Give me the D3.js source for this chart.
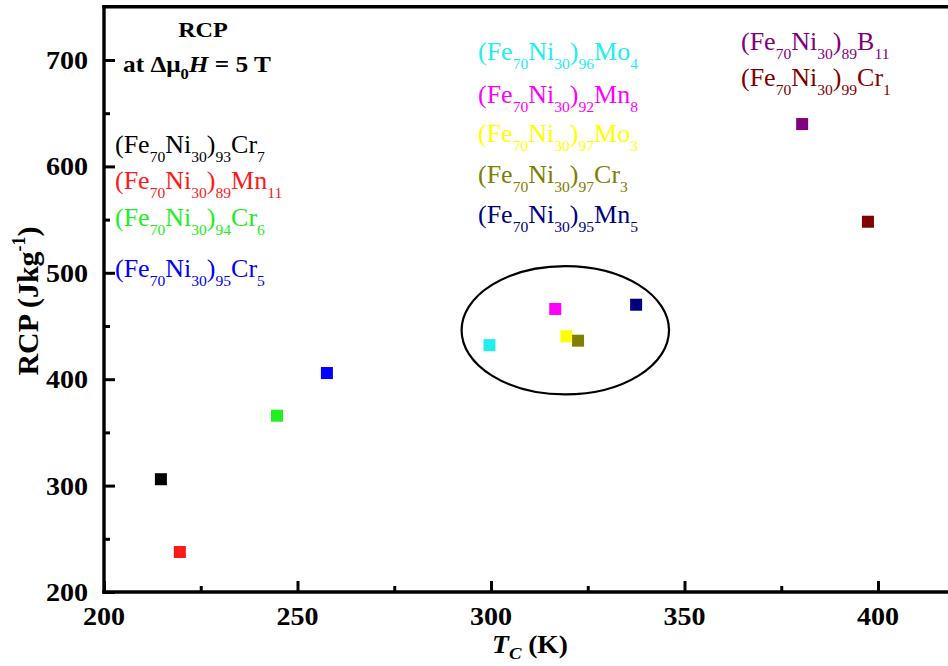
<!DOCTYPE html>
<html>
<head>
<meta charset="utf-8">
<script src="https://cdn.jsdelivr.net/npm/d3@7"></script>
<style>
  html, body { margin: 0; padding: 0; background: #fff; }
  svg { display: block; }
  text { font-family: "Liberation Serif", "Times New Roman", serif; }
</style>
</head>
<body>
<div id="chart"></div>
<script>
// Alloy compositions (markup: _{..} subscript, ^{..} superscript, *{..} italic)
const names = [
  "(Fe_{70}Ni_{30})_{93}Cr_{7}",
  "(Fe_{70}Ni_{30})_{89}Mn_{11}",
  "(Fe_{70}Ni_{30})_{94}Cr_{6}",
  "(Fe_{70}Ni_{30})_{95}Cr_{5}",
  "(Fe_{70}Ni_{30})_{96}Mo_{4}",
  "(Fe_{70}Ni_{30})_{92}Mn_{8}",
  "(Fe_{70}Ni_{30})_{97}Mo_{3}",
  "(Fe_{70}Ni_{30})_{97}Cr_{3}",
  "(Fe_{70}Ni_{30})_{95}Mn_{5}",
  "(Fe_{70}Ni_{30})_{89}B_{11}",
  "(Fe_{70}Ni_{30})_{99}Cr_{1}"
];
// Curie temperature T_C (K)
const tc = [214.7, 219.6, 244.7, 257.6, 299.6, 316.6, 319.5, 322.5, 337.5, 380.4, 397.4];
// Relative cooling power at 5 T (J/kg)
const rcp = [306, 237.6, 365.7, 405.8, 432, 466, 440.3, 436.2, 470, 639.8, 548];
const colors = ["#000000", "#ff1a1a", "#22ee22", "#0000ff", "#22eeee", "#ff00ff",
                "#ffff00", "#808000", "#000080", "#800080", "#800000"];

const xTicks = [200, 250, 300, 350, 400];
const yTicks = [200, 300, 400, 500, 600, 700];
const xMinor = [225, 275, 325, 375];
const yMinor = [250, 350, 450, 550, 650];

// Cluster outline around the near-room-temperature alloys (data units)
const cluster = { tc: 319.2, rcp: 446, rTc: 26.8, rRcp: 60.3 };

const W = 948, H = 666;
const svg = d3.select("#chart").append("svg").attr("width", W).attr("height", H);

const x = d3.scaleLinear().domain([200, 420]).range([104, 955.4]);
const y = d3.scaleLinear().domain([200, 750]).range([592, 6.8]);

const SX = 1.1; // horizontal glyph stretch

// Writes a text with sub/superscripts and italics parsed from the markup
function richText(parent, str, px, py, size, opts = {}) {
  const t = parent.append("text")
    .attr("transform", opts.rotate ? `translate(${px},${py}) rotate(-90)` : `translate(${px},${py}) scale(${opts.sx ?? SX},1)`)
    .attr("font-size", size)
    .attr("font-weight", opts.weight || "normal")
    .attr("fill", opts.color || "#000")
    .attr("text-anchor", opts.anchor || "start");
  const re = /([_^*])\{([^}]*)\}|([^_^*]+)/g;
  let m, shift = 0;
  const subSize = size * (opts.subRatio || 0.7);
  while ((m = re.exec(str)) !== null) {
    if (m[3] || m[1] === "*") {
      const ts = t.append("tspan").attr("dy", -shift).text(m[3] || m[2]);
      if (m[1] === "*") ts.attr("font-style", "italic");
      shift = 0;
    } else {
      const s = m[1] === "_" ? size * (opts.subShift || 0.36) : -size * 0.42;
      t.append("tspan").attr("dy", s - shift).attr("font-size", subSize).text(m[2]);
      shift = s;
    }
  }
  return t;
}

// Axes
const axisW = 3.4;
const axes = svg.append("g").attr("stroke", "#000").attr("stroke-width", axisW).attr("stroke-linecap", "square");
axes.append("line").attr("x1", x(200)).attr("x2", W + 5).attr("y1", y(200)).attr("y2", y(200));
axes.append("line").attr("x1", x(200)).attr("x2", x(200)).attr("y1", y(200)).attr("y2", y(750));
axes.append("line").attr("x1", x(200)).attr("x2", W + 5).attr("y1", y(750)).attr("y2", y(750));

// Ticks point into the plot
function ticks(axisFn, scale, values, size, transform) {
  const g = svg.append("g").attr("transform", transform)
    .call(axisFn(scale).tickValues(values).tickSizeInner(-size).tickSizeOuter(0).tickFormat(""));
  g.select(".domain").remove();
  g.selectAll(".tick line").attr("stroke-width", 3).attr("stroke", "#000");
  g.selectAll(".tick text").remove();
}
ticks(d3.axisBottom, x, xTicks, 11, `translate(0,${y(200)})`);
ticks(d3.axisBottom, x, xMinor, 6, `translate(0,${y(200)})`);
ticks(d3.axisLeft, y, yTicks, 11, `translate(${x(200)},0)`);
ticks(d3.axisLeft, y, yMinor, 6, `translate(${x(200)},0)`);

// Tick labels
const tl = svg.append("g");
xTicks.forEach(v => {
  richText(tl, String(v), x(v), 625, 26, { weight: "bold", anchor: "middle", sx: 1.08 });
});
yTicks.forEach(v => {
  richText(tl, String(v), 88, y(v) + 9, 26, { weight: "bold", anchor: "end", sx: 1.08 });
});

// Axis titles
const xt = svg.append("text")
  .attr("transform", `translate(530,653) scale(${SX},1)`)
  .attr("text-anchor", "middle").attr("font-size", 25).attr("font-weight", "bold");
xt.append("tspan").attr("font-style", "italic").text("T");
xt.append("tspan").attr("font-style", "italic").attr("font-size", 17).attr("dy", 6).text("C");
xt.append("tspan").attr("dy", -6).text(" (K)");

richText(svg, "RCP (Jkg^{-1})", 38, 301, 30, { weight: "bold", anchor: "middle", rotate: true, subRatio: 0.6 });

// Header
richText(svg, "RCP", 203, 37, 22, { weight: "bold", anchor: "middle" });
richText(svg, "at Δμ_{0}*{H} = 5 T", 123, 72, 23, { weight: "bold", subShift: 0.3, subRatio: 0.65 });

// Legend labels, one colour per alloy
const labelPos = [
  [115, 153], [115, 189], [115, 226], [115, 277],
  [478, 60], [478, 103], [478, 142], [478, 183], [478, 223],
  [741, 50], [741, 86]
];
names.forEach((n, i) => {
  richText(svg, n, labelPos[i][0], labelPos[i][1], 25, { color: colors[i], sx: 1.04, subRatio: 0.6, subShift: 0.34 });
});

// Cluster ellipse
svg.append("ellipse")
  .attr("cx", x(cluster.tc)).attr("cy", y(cluster.rcp))
  .attr("rx", x(cluster.tc + cluster.rTc) - x(cluster.tc))
  .attr("ry", y(cluster.rcp) - y(cluster.rcp + cluster.rRcp))
  .attr("fill", "none").attr("stroke", "#000").attr("stroke-width", 2.2);

// Data points
const S = 12;
svg.append("g").selectAll("rect").data(tc).join("rect")
  .attr("x", (d) => x(d) - S / 2)
  .attr("y", (d, i) => y(rcp[i]) - S / 2)
  .attr("width", S).attr("height", S)
  .attr("fill", (d, i) => colors[i]);
</script>
</body>
</html>
